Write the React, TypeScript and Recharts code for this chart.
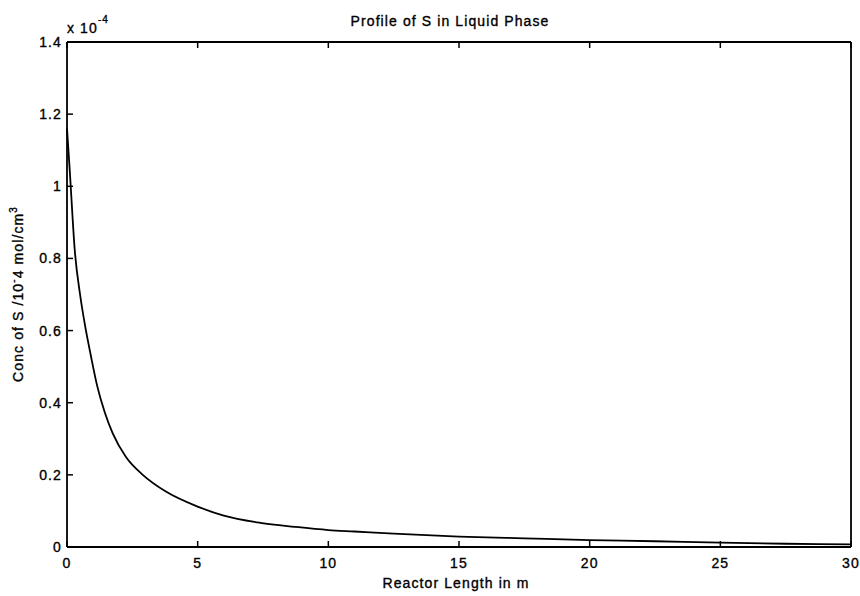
import { LineChart, Line, XAxis, YAxis } from "recharts"

// reactor length (m) and conc of S (x 10^-4 mol/cm3)
const lengthM = [0, 0.1, 0.3, 0.5, 0.7, 0.9, 1.15, 1.45, 1.75, 2.25, 2.9, 3.8, 5, 6, 7.4, 8.7, 10, 11, 12.5, 15, 17.5, 20, 22.5, 25, 27.5, 30]
const concS = [1.16, 1.05, 0.82, 0.7, 0.61, 0.535, 0.448, 0.372, 0.315, 0.25, 0.2, 0.153, 0.112, 0.087, 0.067, 0.056, 0.047, 0.043, 0.037, 0.029, 0.024, 0.019, 0.016, 0.012, 0.009, 0.0075]

const xTicks = [0, 5, 10, 15, 20, 25, 30]
const yTicks = [0, 0.2, 0.4, 0.6, 0.8, 1, 1.2, 1.4]

const data = lengthM.map((x, i) => ({ x, s: concS[i] }))

const W = 860
const H = 596
// plot box runs x 67..851, y 42..547; each axis takes 1px
const margin = { top: 41, right: 8, bottom: 48, left: 66 }
const font = "'Liberation Sans', Arial, sans-serif"
const tickLen = 6
const ink = "#000"

const textStyle = {
  fontFamily: font, fontSize: 14, letterSpacing: 1.1, fill: ink,
  stroke: ink, strokeWidth: 0.35,
}

function BottomTick({ x, y, payload }: any) {
  return (
    <g>
      <line x1={x} y1={y} x2={x} y2={y - tickLen} stroke={ink} strokeWidth={1.5} />
      <text x={x} y={y + 21} textAnchor="middle" {...textStyle}>{String(payload.value)}</text>
    </g>
  )
}

function TopTick({ x, y }: any) {
  return <line x1={x} y1={y} x2={x} y2={y + tickLen} stroke={ink} strokeWidth={1.5} />
}

function LeftTick({ x, y, payload }: any) {
  return (
    <g>
      <line x1={x} y1={y} x2={x + tickLen} y2={y} stroke={ink} strokeWidth={1.5} />
      <text x={x - 5} y={y + 5} textAnchor="end" {...textStyle}>{String(payload.value)}</text>
    </g>
  )
}

function RightTick({ x, y }: any) {
  return <line x1={x} y1={y} x2={x - tickLen} y2={y} stroke={ink} strokeWidth={1.5} />
}

export default function App() {
  const axisLine = { stroke: ink, strokeWidth: 1.8 }
  return (
    <div style={{ position: "absolute", left: 0, top: 0, width: W, height: H, background: "#fff" }}>
      <LineChart width={W} height={H} data={data} margin={margin}>
        <XAxis xAxisId="b" dataKey="x" type="number" domain={[0, 30]} ticks={xTicks}
          orientation="bottom" height={1} tickSize={0} tickMargin={0} tickLine={false}
          axisLine={axisLine} tick={<BottomTick />} interval={0} />
        <XAxis xAxisId="t" dataKey="x" type="number" domain={[0, 30]} ticks={xTicks}
          orientation="top" height={1} tickSize={0} tickMargin={0} tickLine={false}
          axisLine={axisLine} tick={<TopTick />} interval={0} />
        <YAxis yAxisId="l" type="number" domain={[0, 1.4]} ticks={yTicks}
          orientation="left" width={1} tickSize={0} tickMargin={0} tickLine={false}
          axisLine={axisLine} tick={<LeftTick />} interval={0} />
        <YAxis yAxisId="r" type="number" domain={[0, 1.4]} ticks={yTicks}
          orientation="right" width={1} tickSize={0} tickMargin={0} tickLine={false}
          axisLine={axisLine} tick={<RightTick />} interval={0} />
        <Line xAxisId="b" yAxisId="l" dataKey="s" type="monotone" stroke={ink}
          strokeWidth={1.8} dot={false} isAnimationActive={false} />
      </LineChart>
      <svg width={W} height={H} style={{ position: "absolute", left: 0, top: 0, pointerEvents: "none" }}>
        <text x={450} y={26} textAnchor="middle" {...textStyle}>Profile of S in Liquid Phase</text>
        <text x={456} y={588} textAnchor="middle" {...textStyle}>Reactor Length in m</text>
        <text x={67} y={33} {...textStyle}>
          x 10<tspan dy={-10} fontSize={10}>-4</tspan>
        </text>
        <text transform="translate(23, 294) rotate(-90)" textAnchor="middle" {...textStyle}>
          Conc of S /10<tspan dy={-6} fontSize={10}>-</tspan><tspan dy={6}>4 mol/cm</tspan><tspan dy={-6} fontSize={10}>3</tspan>
        </text>
      </svg>
    </div>
  )
}
